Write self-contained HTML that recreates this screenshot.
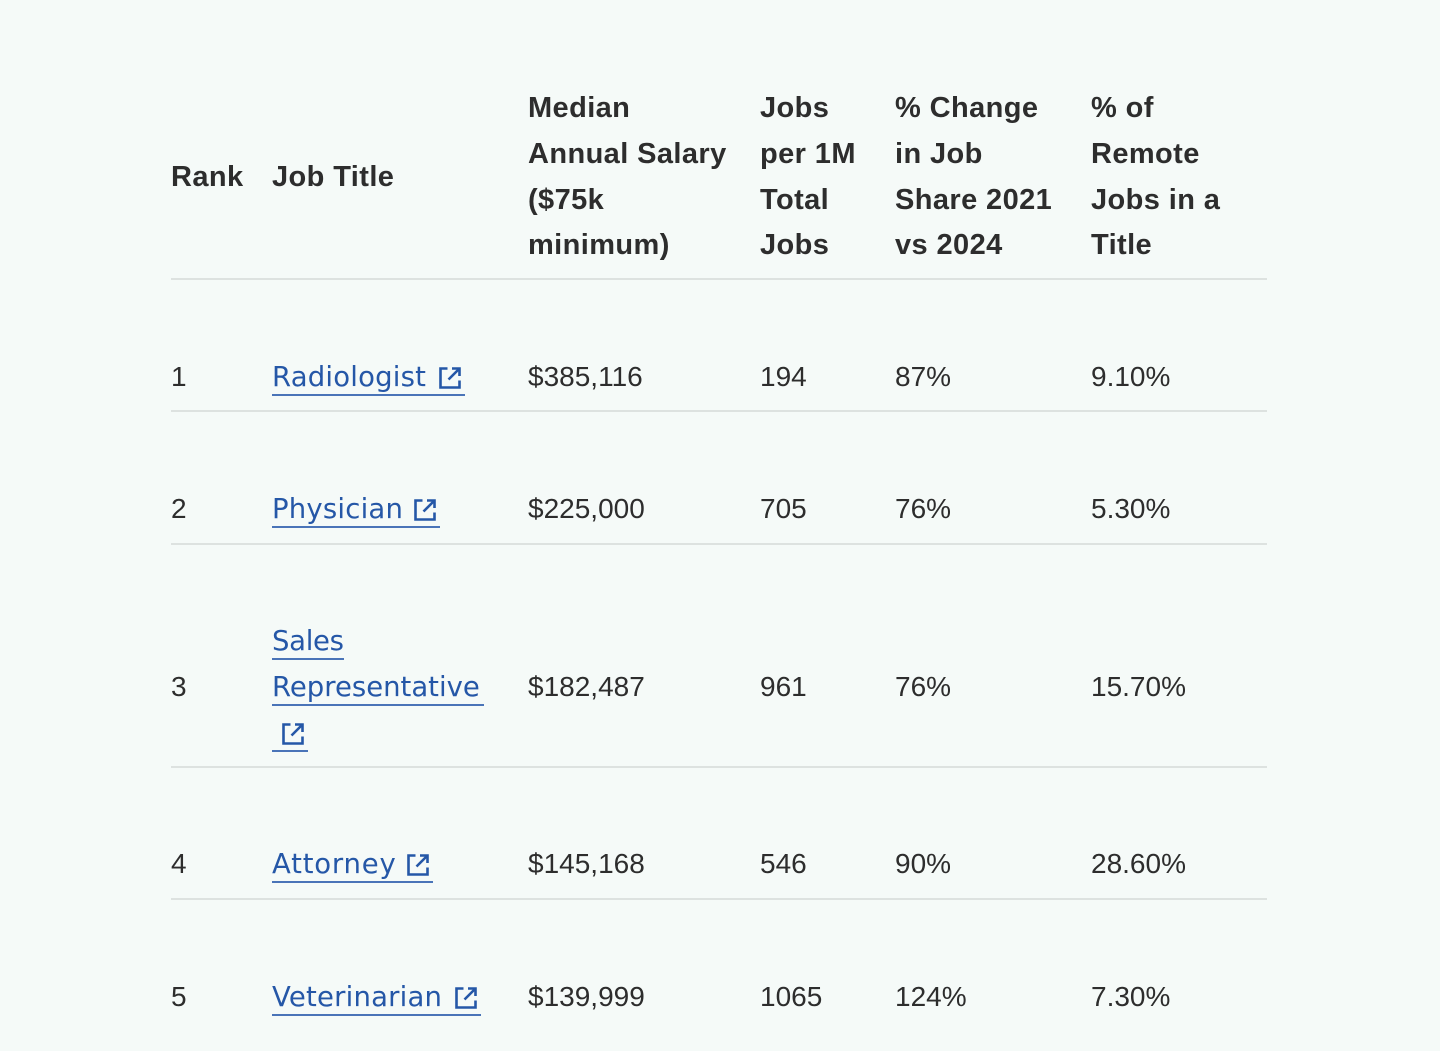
<!DOCTYPE html>
<html>
<head>
<meta charset="utf-8">
<style>
  html,body{margin:0;padding:0;}
  body{width:1440px;height:1051px;background:#f5faf8;position:relative;overflow:hidden;
       font-family:"Liberation Sans",sans-serif;color:#2d2d2d;}
  .t{position:absolute;height:46px;line-height:46px;font-size:28px;white-space:nowrap;}
  .h{font-weight:bold;font-size:29px;letter-spacing:0.4px;}
  .l{color:#2557a7;font-family:"DejaVu Sans","Liberation Sans",sans-serif;font-size:27.5px;letter-spacing:0.2px;}
  .rule{position:absolute;left:171px;width:1096px;height:2px;background:#dde2e0;}
  .ul{position:absolute;height:2px;background:#4a74b8;}
  .ic{position:absolute;width:24px;height:24px;}
</style>
</head>
<body>
<!-- Header -->
<div class="t h" style="left:171px;top:154px;">Rank</div>
<div class="t h" style="left:272px;top:154px;">Job Title</div>

<div class="t h" style="left:528px;top:85px;">Median</div>
<div class="t h" style="left:528px;top:131px;">Annual Salary</div>
<div class="t h" style="left:528px;top:177px;">($75k</div>
<div class="t h" style="left:528px;top:222px;">minimum)</div>

<div class="t h" style="left:760px;top:85px;">Jobs</div>
<div class="t h" style="left:760px;top:131px;">per 1M</div>
<div class="t h" style="left:760px;top:177px;">Total</div>
<div class="t h" style="left:760px;top:222px;">Jobs</div>

<div class="t h" style="left:895px;top:85px;">% Change</div>
<div class="t h" style="left:895px;top:131px;">in Job</div>
<div class="t h" style="left:895px;top:177px;">Share 2021</div>
<div class="t h" style="left:895px;top:222px;">vs 2024</div>

<div class="t h" style="left:1091px;top:85px;">% of</div>
<div class="t h" style="left:1091px;top:131px;">Remote</div>
<div class="t h" style="left:1091px;top:177px;">Jobs in a</div>
<div class="t h" style="left:1091px;top:222px;">Title</div>

<div class="rule" style="top:278px;"></div>

<!-- Row 1 -->
<div class="t" style="left:171px;top:354px;">1</div>
<div class="t l" style="left:272px;top:354px;">Radiologist</div>
<svg class="ic" style="left:438px;top:366px;" viewBox="0 0 24 24" fill="none" stroke="#2557a7" stroke-width="2.6"><path d="M9.5 2.5H2.5V21.5H21.5V14.5"/><path d="M14 2.5H21.5V10"/><path d="M21.5 2.5L10.5 13.5"/></svg>
<div class="ul" style="left:272px;top:394px;width:193px;"></div>
<div class="t" style="left:528px;top:354px;">$385,116</div>
<div class="t" style="left:760px;top:354px;">194</div>
<div class="t" style="left:895px;top:354px;">87%</div>
<div class="t" style="left:1091px;top:354px;">9.10%</div>
<div class="rule" style="top:410px;"></div>

<!-- Row 2 -->
<div class="t" style="left:171px;top:486px;">2</div>
<div class="t l" style="left:272px;top:486px;">Physician</div>
<svg class="ic" style="left:413px;top:498px;" viewBox="0 0 24 24" fill="none" stroke="#2557a7" stroke-width="2.6"><path d="M9.5 2.5H2.5V21.5H21.5V14.5"/><path d="M14 2.5H21.5V10"/><path d="M21.5 2.5L10.5 13.5"/></svg>
<div class="ul" style="left:272px;top:526px;width:168px;"></div>
<div class="t" style="left:528px;top:486px;">$225,000</div>
<div class="t" style="left:760px;top:486px;">705</div>
<div class="t" style="left:895px;top:486px;">76%</div>
<div class="t" style="left:1091px;top:486px;">5.30%</div>
<div class="rule" style="top:543px;"></div>

<!-- Row 3 -->
<div class="t" style="left:171px;top:664px;">3</div>
<div class="t l" style="left:272px;top:618px;letter-spacing:-0.3px;">Sales</div>
<div class="ul" style="left:272px;top:658px;width:72px;"></div>
<div class="t l" style="left:272px;top:664px;letter-spacing:0;">Representative</div>
<div class="ul" style="left:272px;top:704px;width:212px;"></div>
<svg class="ic" style="left:281px;top:722px;" viewBox="0 0 24 24" fill="none" stroke="#2557a7" stroke-width="2.6"><path d="M9.5 2.5H2.5V21.5H21.5V14.5"/><path d="M14 2.5H21.5V10"/><path d="M21.5 2.5L10.5 13.5"/></svg>
<div class="ul" style="left:272px;top:750px;width:36px;"></div>
<div class="t" style="left:528px;top:664px;">$182,487</div>
<div class="t" style="left:760px;top:664px;">961</div>
<div class="t" style="left:895px;top:664px;">76%</div>
<div class="t" style="left:1091px;top:664px;">15.70%</div>
<div class="rule" style="top:766px;"></div>

<!-- Row 4 -->
<div class="t" style="left:171px;top:841px;">4</div>
<div class="t l" style="left:272px;top:841px;letter-spacing:0.8px;">Attorney</div>
<svg class="ic" style="left:406px;top:853px;" viewBox="0 0 24 24" fill="none" stroke="#2557a7" stroke-width="2.6"><path d="M9.5 2.5H2.5V21.5H21.5V14.5"/><path d="M14 2.5H21.5V10"/><path d="M21.5 2.5L10.5 13.5"/></svg>
<div class="ul" style="left:272px;top:881px;width:161px;"></div>
<div class="t" style="left:528px;top:841px;">$145,168</div>
<div class="t" style="left:760px;top:841px;">546</div>
<div class="t" style="left:895px;top:841px;">90%</div>
<div class="t" style="left:1091px;top:841px;">28.60%</div>
<div class="rule" style="top:898px;"></div>

<!-- Row 5 -->
<div class="t" style="left:171px;top:974px;">5</div>
<div class="t l" style="left:272px;top:974px;">Veterinarian</div>
<svg class="ic" style="left:454px;top:986px;" viewBox="0 0 24 24" fill="none" stroke="#2557a7" stroke-width="2.6"><path d="M9.5 2.5H2.5V21.5H21.5V14.5"/><path d="M14 2.5H21.5V10"/><path d="M21.5 2.5L10.5 13.5"/></svg>
<div class="ul" style="left:272px;top:1014px;width:209px;"></div>
<div class="t" style="left:528px;top:974px;">$139,999</div>
<div class="t" style="left:760px;top:974px;">1065</div>
<div class="t" style="left:895px;top:974px;">124%</div>
<div class="t" style="left:1091px;top:974px;">7.30%</div>
</body>
</html>
